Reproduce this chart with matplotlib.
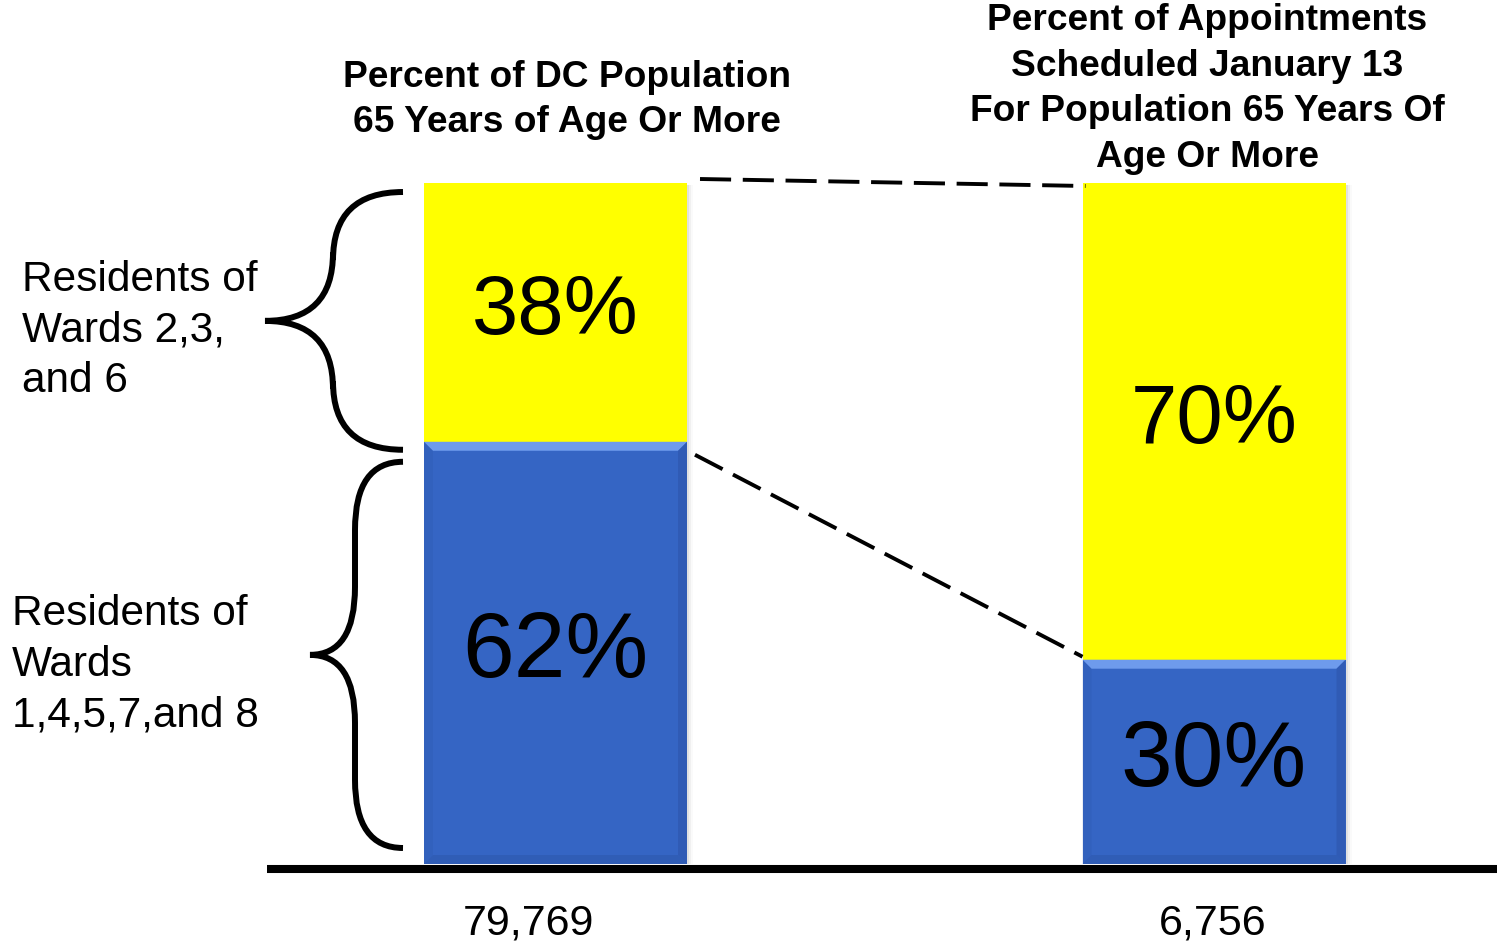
import matplotlib
matplotlib.use("Agg")
import matplotlib.pyplot as plt
from matplotlib.path import Path
from matplotlib.patches import PathPatch, Polygon, Rectangle

plt.rcParams['font.family'] = ['Liberation Sans', 'DejaVu Sans']

# ---- data -------------------------------------------------------------
group_titles = [
    "Percent of DC Population\n65 Years of Age Or More",
    "Percent of Appointments\nScheduled January 13\nFor Population 65 Years Of\nAge Or More",
]
group_totals = ["79,769", "6,756"]
wards_14578 = [62, 30]      # Residents of Wards 1,4,5,7 and 8 (%)
wards_236 = [38, 70]        # Residents of Wards 2,3 and 6 (%)
upper_label = "Residents of\nWards 2,3,\nand 6"
lower_label = "Residents of\nWards\n1,4,5,7,and 8"

BLUE = "#3565C4"
BLUE_LIGHT = "#6E9BEC"
BLUE_DARK = "#2A51A3"
YELLOW = "#FFFF00"

# ---- canvas / coordinate layout ---------------------------------------
W, H = 1499, 942
fig = plt.figure(figsize=(W / 100, H / 100), dpi=100)
ax = fig.add_axes([0, 0, 1, 1])
ax.set_axis_off()

BASE_PX, TOP_PX = 864, 183          # pixel rows of 0 % and 100 %
PPY = (BASE_PX - TOP_PX) / 100.0    # pixels per percent
C0_PX, C1_PX = 555.5, 1214.0        # bar centres in pixels
PPX = C1_PX - C0_PX                 # pixels per category step


def X(px):
    return (px - C0_PX) / PPX


def Y(py):
    return (BASE_PX - py) / PPY


ax.set_xlim(X(0), X(W))
ax.set_ylim(Y(H), Y(0))

pos = [0, 1]
width = 263 / PPX

# soft shadow behind bars
for p in pos:
    for k, a in enumerate([0.06, 0.04, 0.02]):
        off = (2 + 2 * k) / PPX
        ax.add_patch(Rectangle((p - width / 2 + off, 0), width, 100 - 0.3,
                               facecolor="black", alpha=a, lw=0, zorder=1))

ax.bar(pos, wards_14578, width=width, color=BLUE, zorder=2, linewidth=0)
ax.bar(pos, wards_236, bottom=wards_14578, width=width, color=YELLOW,
       zorder=2, linewidth=0)

# bevel on the blue segments
dx, dy = 9 / PPX, 9 / PPY
for p, v in zip(pos, wards_14578):
    x0, x1 = p - width / 2, p + width / 2
    ax.add_patch(Polygon([(x0, v), (x1, v), (x1 - dx, v - dy), (x0 + dx, v - dy)],
                         closed=True, facecolor=BLUE_LIGHT, lw=0, zorder=3))
    ax.add_patch(Polygon([(x1, v), (x1, 0), (x1 - dx, dy), (x1 - dx, v - dy)],
                         closed=True, facecolor=BLUE_DARK, lw=0, zorder=3, alpha=0.45))
    ax.add_patch(Polygon([(x0, 0), (x1, 0), (x1 - dx, dy), (x0 + dx, dy)],
                         closed=True, facecolor=BLUE_DARK, lw=0, zorder=3, alpha=0.4))
    ax.add_patch(Polygon([(x0, v), (x0, 0), (x0 + dx, dy), (x0 + dx, v - dy)],
                         closed=True, facecolor=BLUE_DARK, lw=0, zorder=3, alpha=0.2))

# percentage labels centred in each segment
for p, lo, hi in zip(pos, wards_14578, wards_236):
    ax.text(p, lo / 2, f"{lo}%", ha="center", va="center", fontsize=67, zorder=5)
    ax.text(p, lo + hi / 2, f"{hi}%", ha="center", va="center", fontsize=60, zorder=5)

# baseline
ax.plot([X(267), X(1497)], [Y(869), Y(869)], color="black", lw=5.8,
        solid_capstyle="butt", zorder=4)

# dashed connectors between the bars
dash = dict(color="black", lw=2.8, dashes=(8, 3), zorder=4)
xl = pos[0] + width / 2
xr = pos[1] - width / 2
ax.plot([xl + 13 / PPX, xr + 3 / PPX], [100 + 4 / PPY, 100 - 3 / PPY], **dash)
ax.plot([xl + 8 / PPX, xr], [wards_14578[0] - 13 / PPY, wards_14578[1] + 3 / PPY], **dash)


def brace(x_end, x_mid, x_tip, y_bot, y_top, r):
    yc = (y_bot + y_top) / 2
    verts = [(x_end, y_top), (x_mid, y_top), (x_mid, y_top - r),
             (x_mid, yc + r),
             (x_mid, yc), (x_tip, yc),
             (x_mid, yc), (x_mid, yc - r),
             (x_mid, y_bot + r),
             (x_mid, y_bot), (x_end, y_bot)]
    codes = [Path.MOVETO, Path.CURVE3, Path.CURVE3, Path.LINETO,
             Path.CURVE3, Path.CURVE3, Path.CURVE3, Path.CURVE3,
             Path.LINETO, Path.CURVE3, Path.CURVE3]
    ax.add_patch(PathPatch(Path(verts, codes), facecolor="none",
                           edgecolor="black", lw=4.3, capstyle="butt", zorder=4))
    return yc


v0 = wards_14578[0]
yc_up = brace(X(403), X(333), X(265), v0 - 8 / PPY, 100 - 9 / PPY, 68 / PPY)
yc_lo = brace(X(403), X(355), X(310), 16 / PPY, v0 - 20 / PPY, 68 / PPY)

ax.text(X(22), yc_up - 10 / PPY, upper_label, ha="left", va="center",
        fontsize=30.5, linespacing=1.34)
ax.text(X(12), yc_lo - 10 / PPY, lower_label, ha="left", va="center",
        fontsize=30.5, linespacing=1.34)

# group titles and totals
ax.text(X(567), Y(100), group_titles[0], ha="center", va="center",
        fontsize=26.7, fontweight="bold", linespacing=1.4)
ax.text(X(1207), Y(89), group_titles[1], ha="center", va="center",
        fontsize=26.7, fontweight="bold", linespacing=1.4)
ax.text(X(528), Y(923), group_totals[0], ha="center", va="center", fontsize=31)
ax.text(X(1213), Y(923), group_totals[1], ha="center", va="center", fontsize=31)

fig.savefig("out.png", dpi=100, facecolor="white")
